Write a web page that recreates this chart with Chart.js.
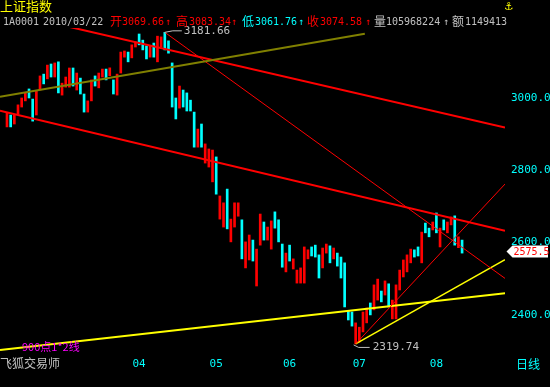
<!DOCTYPE html>
<html>
<head>
<meta charset="utf-8">
<script src="https://cdn.jsdelivr.net/npm/chart.js@4"></script>
<style>
  html, body { margin: 0; padding: 0; background: #000; }
  #wrap { position: relative; width: 550px; height: 387px; overflow: hidden; background: #000; }
  #kline { position: absolute; left: 0; top: 0; }
  .t { position: absolute; white-space: nowrap; font-family: "DejaVu Sans Mono", monospace; font-size: 10px; line-height: 12px; }
  .cj { font-family: "Noto Sans CJK SC", sans-serif; font-size: 12px; line-height: 14px; }
</style>
</head>
<body>
<div id="wrap">
  <canvas id="kline" width="550" height="387"></canvas>
  <div class="t cj" style="left:0;top:-1px;font-size:13px;color:#ffff00">上证指数</div>
  <div class="t" style="left:505px;top:-2px;font-size:13px;line-height:15px;color:#ffff00">⚓</div>
  <div id="quote"></div>
  <div class="t cj" style="left:22px;top:339px;color:#ff00ff;font-size:11px">900点1*2线</div>
  <div class="t cj" style="left:0;top:356px;color:#c0c0c0">飞狐交易师</div>
  <div class="t cj" style="left:516px;top:357px;color:#00ffff">日线</div>
</div>
<script>
// 上证指数 日线 2010-02 ~ 2010-08，每根K线的最高/最低
const highs = [
  2958, 2953, 2953, 2981, 3000, 3014, 3025, 2997, 3019, 3061,
  3066, 3091, 3094, 3097, 3100, 3041, 3058, 3083, 3083, 3069,
  3055, 3011, 2992, 3050, 3061, 3069, 3080, 3080, 3083.34, 3050,
  3066, 3127, 3130, 3127, 3147, 3155, 3177, 3160, 3144, 3144,
  3152, 3171, 3169, 3181.66, 3158, 3097, 3000, 3033, 3022, 3014,
  2994, 2961, 2914, 2928, 2873, 2859, 2856, 2837, 2729, 2710,
  2748, 2665, 2710, 2710, 2663, 2602, 2621, 2607, 2582, 2679,
  2657, 2643, 2660, 2685, 2663, 2596, 2571, 2593, 2555, 2524,
  2530, 2588, 2580, 2588, 2593, 2566, 2585, 2596, 2591, 2585,
  2571, 2560, 2544, 2411, 2408, 2378, 2366, 2408, 2419, 2433,
  2483, 2499, 2466, 2494, 2486, 2441, 2483, 2524, 2552, 2566,
  2582, 2580, 2588, 2629, 2654, 2640, 2657, 2682, 2640, 2663,
  2657, 2671, 2674, 2616, 2607,
];
const lows = [
  2920, 2920, 2928, 2956, 2975, 2992, 3000, 2936, 2953, 3022,
  3039, 3053, 3058, 3058, 3014, 3008, 3030, 3030, 3033, 3022,
  3011, 2961, 2961, 2992, 3033, 3028, 3058, 3050, 3061.76, 3011,
  3008, 3069, 3113, 3100, 3111, 3141, 3147, 3133, 3108, 3113,
  3113, 3100, 3141, 3133, 3124, 2975, 2942, 2972, 2975, 2964,
  2964, 2864, 2864, 2864, 2820, 2809, 2768, 2734, 2665, 2643,
  2638, 2602, 2643, 2673, 2555, 2530, 2552, 2549, 2480, 2593,
  2607, 2607, 2582, 2640, 2602, 2532, 2519, 2549, 2527, 2488,
  2488, 2488, 2555, 2563, 2560, 2502, 2530, 2571, 2544, 2555,
  2535, 2502, 2422, 2386, 2369, 2319.74, 2325, 2353, 2378, 2400,
  2414, 2441, 2436, 2455, 2422, 2389, 2389, 2469, 2505, 2519,
  2544, 2560, 2563, 2544, 2627, 2616, 2635, 2627, 2588, 2635,
  2627, 2649, 2593, 2586, 2571,
];
// 1 = 阳线(红), 0 = 阴线(青)
const rising = [
  1, 0, 1, 1, 1, 1, 0, 0, 1, 1,
  0, 1, 0, 1, 0, 1, 1, 1, 0, 1,
  0, 0, 1, 1, 0, 1, 1, 0, 1, 0,
  1, 1, 1, 0, 1, 1, 0, 0, 0, 1,
  0, 1, 1, 0, 0, 0, 0, 1, 0, 0,
  0, 0, 1, 0, 1, 1, 1, 0, 1, 1,
  0, 1, 1, 1, 0, 1, 1, 0, 1, 1,
  0, 1, 1, 0, 0, 0, 1, 0, 1, 1,
  1, 1, 1, 0, 0, 0, 1, 1, 0, 1,
  0, 0, 0, 0, 0, 1, 1, 1, 1, 0,
  1, 1, 0, 1, 0, 1, 1, 1, 1, 1,
  1, 0, 0, 1, 0, 0, 1, 0, 1, 0,
  1, 1, 0, 1, 0,
];
const lastClose = 2575.5;

const monthTicks = [36, 57, 77, 96, 117];
const monthNames = ['04', '05', '06', '07', '08'];
const priceTicks = [2400, 2600, 2800, 3000];

// 画线工具：每条线两个点 [K线序号, 价格]
const chanTop = [[-1.91, 3241], [135.7, 2918]];
const chanMid = [[-1.91, 2965], [135.7, 2633]];
const oliveLine = [[-1.91, 3003.5], [97.5, 3178]];
const fromHigh = [[43, 3181.66], [135.7, 2501]];
const fromLowRed = [[95, 2319.74], [135.7, 2762]];
const fromLowYellow = [[95, 2319.74], [135.7, 2553]];
const baseYellow = [[-1.91, 2303], [135.7, 2460]];

const RED = '#ff0000';
const CYAN = '#00ffff';
const GREY = '#c0c0c0';

// 行情栏
const quoteParts = [
  ['1A0001', GREY, 3], ['2010/03/22', GREY, 43],
  ['开', RED, 110], ['3069.66', RED, 122], ['↑', RED, 165],
  ['高', RED, 176], ['3083.34', RED, 189], ['↑', RED, 231],
  ['低', CYAN, 242], ['3061.76', CYAN, 255], ['↑', CYAN, 298],
  ['收', RED, 307], ['3074.58', RED, 320], ['↑', RED, 365],
  ['量', GREY, 374], ['105968224', GREY, 386], ['↑', GREY, 443],
  ['额', GREY, 452], ['1149413', GREY, 465],
];
const quoteBox = document.getElementById('quote');
quoteParts.forEach(([txt, color, left]) => {
  const el = document.createElement('div');
  const isCj = /[\u4e00-\u9fff]/.test(txt);
  el.className = isCj ? 't cj' : 't';
  el.style.left = left + 'px';
  el.style.top = isCj ? '14px' : '16px';
  el.style.color = color;
  el.textContent = txt;
  quoteBox.appendChild(el);
});

function toPoints(pts) {
  return pts.map(([x, y]) => ({ x, y }));
}

function trend(pts, color, width) {
  return {
    type: 'line',
    data: toPoints(pts),
    borderColor: color,
    borderWidth: width,
    pointRadius: 0,
    fill: false,
    tension: 0,
    clip: 0,
    order: 1,
  };
}

// 最高/最低点标注 + 最新价标签
const marksPlugin = {
  id: 'marks',
  afterDraw(chart) {
    const { ctx, chartArea } = chart;
    const xs = chart.scales.x;
    const ys = chart.scales.y;
    const hi = highs.indexOf(Math.max(...highs));
    const lo = lows.indexOf(Math.min(...lows));

    ctx.save();
    ctx.strokeStyle = GREY;
    ctx.fillStyle = GREY;
    ctx.lineWidth = 1;
    ctx.font = '11px "DejaVu Sans Mono"';
    ctx.textBaseline = 'middle';

    let px = xs.getPixelForValue(hi);
    let py = ys.getPixelForValue(highs[hi]);
    ctx.beginPath();
    ctx.moveTo(px, py);
    ctx.lineTo(px + 8, py - 1.5);
    ctx.lineTo(px + 17, py - 1.5);
    ctx.stroke();
    ctx.fillText(highs[hi].toFixed(2), px + 19, py - 1);

    px = xs.getPixelForValue(lo);
    py = ys.getPixelForValue(lows[lo]);
    ctx.beginPath();
    ctx.moveTo(px - 2, py + 1);
    ctx.lineTo(px + 3, py + 3.5);
    ctx.lineTo(px + 14, py + 3.5);
    ctx.stroke();
    ctx.fillText(lows[lo].toFixed(2), px + 17, py + 3);

    const my = Math.round(ys.getPixelForValue(lastClose)) + 0.5;
    const mx = chartArea.right + 1.5;
    ctx.fillStyle = '#ffffff';
    ctx.beginPath();
    ctx.moveTo(mx, my);
    ctx.lineTo(mx + 6, my - 6);
    ctx.lineTo(548, my - 6);
    ctx.lineTo(548, my + 6);
    ctx.lineTo(mx + 6, my + 6);
    ctx.closePath();
    ctx.fill();
    ctx.fillStyle = RED;
    ctx.font = '10px "DejaVu Sans Mono"';
    ctx.fillText(lastClose.toFixed(1), mx + 7, my + 0.5);
    ctx.restore();
  },
};

const candleData = highs.map((h, i) => ({ x: i, y: [lows[i], h] }));

new Chart(document.getElementById('kline').getContext('2d'), {
  type: 'bar',
  data: {
    datasets: [
      {
        type: 'bar',
        data: candleData,
        backgroundColor: rising.map((r) => (r ? RED : CYAN)),
        barThickness: 2,
        grouped: false,
        order: 5,
      },
      trend(oliveLine, '#808000', 2),
      trend(chanTop, RED, 2),
      trend(chanMid, RED, 2),
      trend(fromHigh, RED, 1),
      trend(fromLowRed, RED, 1),
      trend(baseYellow, '#ffff00', 2),
      trend(fromLowYellow, '#ffff00', 1.5),
    ],
  },
  options: {
    responsive: false,
    animation: false,
    layout: { padding: { top: 28, left: 0, right: 0, bottom: 0 } },
    plugins: {
      legend: { display: false },
      tooltip: { enabled: false },
    },
    scales: {
      x: {
        type: 'linear',
        offset: false,
        min: -1.907,
        max: 135.695,
        grid: { display: false, drawTicks: false, offset: false },
        border: { display: false },
        afterBuildTicks: (s) => {
          s.ticks = monthTicks.map((v) => ({ value: v }));
        },
        afterFit: (s) => {
          s.height = 35;
        },
        ticks: {
          color: CYAN,
          font: { family: 'DejaVu Sans Mono', size: 11 },
          padding: 6,
          autoSkip: false,
          maxRotation: 0,
          callback: (v) => monthNames[monthTicks.indexOf(v)] || '',
        },
      },
      y: {
        type: 'linear',
        position: 'right',
        min: 2297.4,
        max: 3193.6,
        grid: { display: false, drawTicks: false },
        border: { display: false },
        afterBuildTicks: (s) => {
          s.ticks = priceTicks.map((v) => ({ value: v }));
        },
        afterFit: (s) => {
          s.width = 45;
        },
        ticks: {
          color: CYAN,
          font: { family: 'DejaVu Sans Mono', size: 11 },
          padding: 6,
          callback: (v) => Number(v).toFixed(1),
        },
      },
    },
  },
  plugins: [marksPlugin],
});
</script>
</body>
</html>
